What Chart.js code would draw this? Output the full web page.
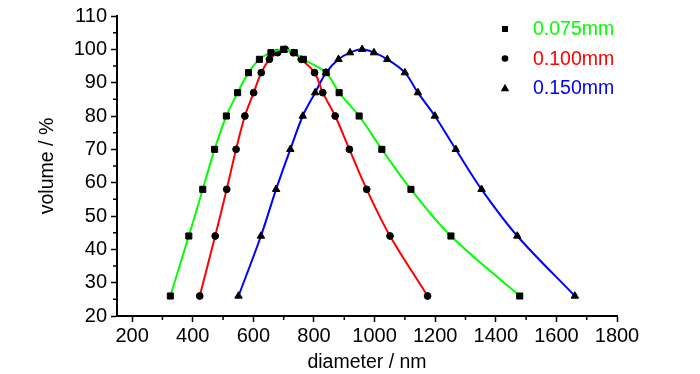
<!DOCTYPE html>
<html>
<head>
<meta charset="utf-8">
<script src="https://cdn.jsdelivr.net/npm/chart.js@4/dist/chart.umd.min.js"></script>
<style>
  html, body { margin: 0; padding: 0; background: #fff; }
  #wrap { width: 700px; height: 374px; }
</style>
</head>
<body>
<div id="wrap"><canvas id="psdChart" width="700" height="374"></canvas></div>
<script>
// volume levels shared by all three curves (rise to 100 then fall)
const volume = [26, 44, 58, 70, 80, 87, 93, 97, 99, 100, 99, 97, 93, 87, 80, 70, 58, 44, 26];
const diam075 = [326, 387, 433, 472, 511, 548, 584, 620, 658, 700, 735, 765, 840, 883, 949, 1024, 1120, 1252, 1479];
const diam100 = [423, 474, 512, 543, 572, 601, 626, 653, 680, 705, 732, 758, 802, 829, 870, 917, 974, 1051, 1175];
const diam150 = [551, 625, 675, 722, 763, 804, 840, 881, 919, 959, 998, 1042, 1100, 1143, 1199, 1268, 1353, 1471, 1661];
const seriesLabels = ['0.075mm', '0.100mm', '0.150mm'];
const xTicks = [200, 400, 600, 800, 1000, 1200, 1400, 1600, 1800];
const yTicks = [20, 30, 40, 50, 60, 70, 80, 90, 100, 110];

const FONT = 'Arial, "Liberation Sans", sans-serif';

function toPoints(xs, ys) {
  return xs.map((x, i) => ({ x: x, y: ys[i] }));
}

function series(label, xs, color, style, radius) {
  return {
    label: label,
    data: toPoints(xs, volume),
    borderColor: color,
    borderWidth: 2,
    tension: 0.35,
    pointStyle: style,
    pointRadius: radius,
    pointBackgroundColor: '#000',
    pointBorderColor: '#000',
    pointBorderWidth: 1,
    fill: false
  };
}

// minor ticks between the labelled ones, plus the coloured legend in the corner
const extrasPlugin = {
  id: 'extras',
  afterDraw(chart) {
    const ctx = chart.ctx;
    const xs = chart.scales.x, ys = chart.scales.y;
    ctx.save();
    ctx.strokeStyle = '#000';
    ctx.lineWidth = 1.5;
    ctx.beginPath();
    for (let v = 300; v < 1800; v += 200) {
      const px = xs.getPixelForValue(v);
      ctx.moveTo(px, ys.bottom);
      ctx.lineTo(px, ys.bottom + 4);
    }
    for (let v = 25; v < 110; v += 10) {
      const py = ys.getPixelForValue(v);
      ctx.moveTo(xs.left, py);
      ctx.lineTo(xs.left - 4, py);
    }
    ctx.stroke();

    const lx = 505, ly = 29, gap = 29.5;
    ctx.font = '19.5px ' + FONT;
    ctx.textBaseline = 'middle';
    chart.data.datasets.forEach((ds, i) => {
      const y = ly + i * gap;
      ctx.fillStyle = '#000';
      ctx.beginPath();
      if (ds.pointStyle === 'rect') {
        ctx.rect(lx - 3, y - 3, 6, 6);
      } else if (ds.pointStyle === 'circle') {
        ctx.arc(lx, y, 3.3, 0, Math.PI * 2);
      } else {
        ctx.moveTo(lx, y - 4.2);
        ctx.lineTo(lx + 4.2, y + 3.2);
        ctx.lineTo(lx - 4.2, y + 3.2);
        ctx.closePath();
      }
      ctx.fill();
      ctx.fillStyle = ds.borderColor;
      ctx.fillText(ds.label, 533, y + 1);
    });
    ctx.restore();
  }
};

document.addEventListener('DOMContentLoaded', () => {
  const ctx = document.getElementById('psdChart').getContext('2d');
  try {
    new Chart(ctx, {
      type: 'line',
      data: {
        datasets: [
          series(seriesLabels[0], diam075, '#00ff00', 'rect', 4.3),
          series(seriesLabels[1], diam100, '#ff0000', 'circle', 3.4),
          series(seriesLabels[2], diam150, '#0000ff', 'triangle', 4.3)
        ]
      },
      options: {
        responsive: false,
        animation: false,
        layout: { padding: { top: 16, right: 83, left: 0, bottom: 0 } },
        plugins: {
          legend: { display: false },
          tooltip: { enabled: false }
        },
        scales: {
          x: {
            type: 'linear',
            min: 150,
            max: 1800,
            afterBuildTicks: (scale) => { scale.ticks = xTicks.map(v => ({ value: v })); },
            afterFit: (scale) => { scale.height = 58; },
            border: { display: true, color: '#000', width: 2 },
            grid: { drawOnChartArea: false, drawTicks: true, tickLength: 6, tickColor: '#000', tickWidth: 1.5 },
            ticks: { color: '#000', font: { family: FONT, size: 20 }, padding: 2, maxRotation: 0, callback: (v) => String(v) },
            title: { display: true, text: 'diameter / nm', color: '#000', font: { family: FONT, size: 19.5 }, padding: { top: 0, bottom: 0 } }
          },
          y: {
            type: 'linear',
            min: 20,
            max: 110,
            afterBuildTicks: (scale) => { scale.ticks = yTicks.map(v => ({ value: v })); },
            afterFit: (scale) => { scale.width = 117; },
            border: { display: true, color: '#000', width: 2 },
            grid: { drawOnChartArea: false, drawTicks: true, tickLength: 6, tickColor: '#000', tickWidth: 1.5 },
            ticks: { color: '#000', font: { family: FONT, size: 20 }, padding: 4, callback: (v) => String(v) },
            title: { display: true, text: 'volume / %', color: '#000', font: { family: FONT, size: 19.5 }, padding: { top: 36, bottom: 0 } }
          }
        }
      },
      plugins: [extrasPlugin]
    });
  } catch (error) {
    console.error('Chart.js Error: ', error);
  }
});
</script>
</body>
</html>
